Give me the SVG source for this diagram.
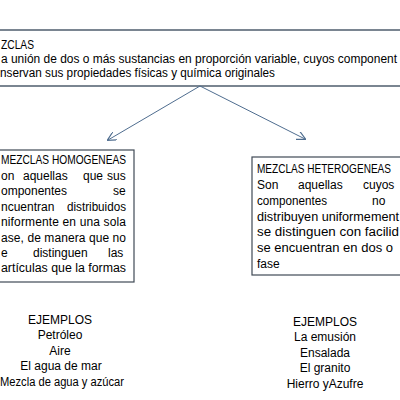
<svg xmlns="http://www.w3.org/2000/svg" width="400" height="400" viewBox="0 0 400 400">
<style>
text{font-family:"Liberation Sans",Arial,sans-serif;font-size:12px;fill:#000}
.box{fill:#fff;stroke:#404a55;stroke-width:1.2}
.top{fill:#fff;stroke:#7a8591;stroke-width:2}
.ex{text-anchor:middle}
.con{stroke:#4f6d8f;stroke-width:1;fill:none}
</style>
<defs>
<marker id="ah" viewBox="0 0 10 10" refX="9" refY="5" markerWidth="9" markerHeight="9" markerUnits="userSpaceOnUse" orient="auto">
<path d="M0,0 L10,5 L0,10" fill="none" stroke="#4f6d8f" stroke-width="1.3"/>
</marker>
</defs>
<rect width="400" height="400" fill="#fff"/>
<g id="mezclas">
<rect class="top" x="-5" y="30" width="410" height="56"/>
<text x="1" y="48.5" textLength="33" lengthAdjust="spacingAndGlyphs">ZCLAS</text>
<text x="1" y="63" textLength="396" lengthAdjust="spacingAndGlyphs">a unión de dos o más sustancias en proporción variable, cuyos component</text>
<text x="0" y="77" textLength="275" lengthAdjust="spacingAndGlyphs">nservan sus propiedades físicas y química originales</text>
</g>
<g id="connectors">
<line class="con" x1="200" y1="86" x2="108" y2="140" marker-end="url(#ah)"/>
<line class="con" x1="200" y1="86" x2="305" y2="139" marker-end="url(#ah)"/>
</g>
<g id="homogeneas">
<rect class="box" x="-5" y="150" width="139" height="132"/>
<text x="1" y="164" textLength="125" lengthAdjust="spacingAndGlyphs">MEZCLAS HOMOGENEAS</text>
<text y="180"><tspan x="1">on</tspan><tspan x="23">aquellas</tspan><tspan x="83">que</tspan><tspan x="107">sus</tspan></text>
<text y="195"><tspan x="1">omponentes</tspan><tspan x="113">se</tspan></text>
<text y="211"><tspan x="1">ncuentran</tspan><tspan x="67" textLength="59" lengthAdjust="spacingAndGlyphs">distribuidos</tspan></text>
<text x="1" y="226" textLength="125" lengthAdjust="spacing">niformente en una sola</text>
<text x="1" y="242" textLength="125" lengthAdjust="spacing">ase, de manera que no</text>
<text y="257"><tspan x="1">e</tspan><tspan x="33">distinguen</tspan><tspan x="108">las</tspan></text>
<text x="1" y="272" textLength="125" lengthAdjust="spacingAndGlyphs">artículas que la formas</text>
</g>
<g id="heterogeneas">
<rect class="box" x="252" y="157" width="155" height="118"/>
<text x="257" y="173" font-size="11" textLength="134" lengthAdjust="spacingAndGlyphs">MEZCLAS HETEROGENEAS</text>
<text y="189"><tspan x="257">Son</tspan><tspan x="298">aquellas</tspan><tspan x="363">cuyos</tspan></text>
<text y="205"><tspan x="257" textLength="70" lengthAdjust="spacingAndGlyphs">componentes</tspan><tspan x="372">no</tspan></text>
<text x="257" y="221" textLength="142" lengthAdjust="spacingAndGlyphs">distribuyen uniformement</text>
<text x="257" y="236" textLength="142" lengthAdjust="spacingAndGlyphs">se distinguen  con facilid</text>
<text x="257" y="252" textLength="136" lengthAdjust="spacingAndGlyphs">se encuentran en dos o</text>
<text x="257" y="268">fase</text>
</g>
<g id="ejemplos-homogeneas" class="ex">
<text x="60" y="324">EJEMPLOS</text>
<text x="60" y="339">Petróleo</text>
<text x="60" y="355">Aire</text>
<text x="61" y="370">El agua de mar</text>
<text x="62" y="386" textLength="124" lengthAdjust="spacingAndGlyphs">Mezcla de agua y azúcar</text>
</g>
<g id="ejemplos-heterogeneas" class="ex">
<text x="325" y="326">EJEMPLOS</text>
<text x="325" y="341">La emusión</text>
<text x="325" y="357">Ensalada</text>
<text x="325" y="372">El granito</text>
<text x="325" y="388">Hierro yAzufre</text>
</g>
</svg>
